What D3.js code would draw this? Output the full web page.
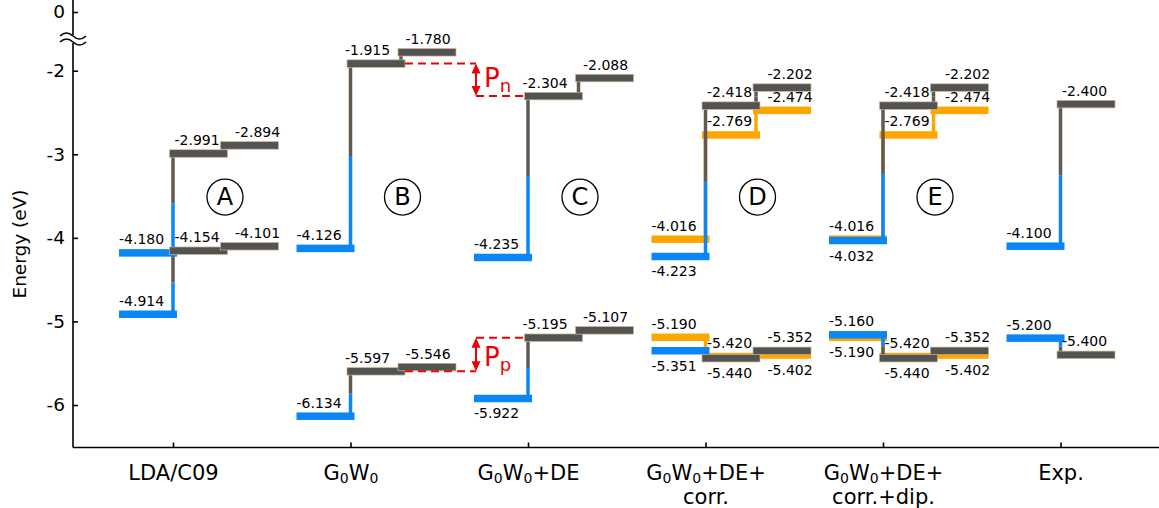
<!DOCTYPE html>
<html>
<head>
<meta charset="utf-8">
<script src="https://cdn.jsdelivr.net/npm/d3@7"></script>
<style>
  body { margin: 0; background: #fff; }
  svg { display: block; font-family: "DejaVu Sans", Verdana, sans-serif; }
</style>
</head>
<body>
<div id="chart"></div>
<script>
// categories on the x axis ("\n" = line break, ₀ = subscript)
const categories = ["LDA/C09", "G₀W₀", "G₀W₀+DE", "G₀W₀+DE+\ncorr.", "G₀W₀+DE+\ncorr.+dip.", "Exp."];
const groupTags = ["A", "B", "C", "D", "E", null];

// left levels (blue)
const blueUpper = [-4.180, -4.126, -4.235, -4.223, -4.032, -4.100];
const blueLower = [-4.914, -6.134, -5.922, -5.351, -5.160, -5.200];
// step levels (gray), first and second step
const grayUpper1 = [-2.991, -1.915, -2.304, -2.418, -2.418, -2.400];
const grayUpper2 = [-2.894, -1.780, -2.088, -2.202, -2.202, null];
const grayLower1 = [-4.154, -5.597, -5.195, -5.440, -5.440, -5.400];
const grayLower2 = [-4.101, -5.546, -5.107, -5.352, -5.352, null];
// second set (orange)
const orangeUpper0 = [null, null, null, -4.016, -4.016, null];
const orangeLower0 = [null, null, null, -5.190, -5.190, null];
const orangeUpper1 = [null, null, null, -2.769, -2.769, null];
const orangeUpper2 = [null, null, null, -2.474, -2.474, null];
const orangeLower1 = [null, null, null, -5.420, -5.420, null];
const orangeLower2 = [null, null, null, -5.402, -5.402, null];

const yTicks = [-6, -5, -4, -3, -2];
const yTopTicks = [0];

// ---- layout ----
const width = 1159, height = 508;
const axisX = 73, axisY = 447.5;
const colors = { blue: "#0a87f5", gray: "#535353", grayLine: "#625a50", orange: "#ffa500", edge: "#c9b48c", red: "#ee0000" };
const slots = { left: [-54, 4], s1: [-3.5, 54.5], s2: [47.5, 105.5] };
const barH = 7.5;

const svg = d3.select("#chart").append("svg")
  .attr("width", width)
  .attr("height", height);

const x = d3.scalePoint().domain(categories).range([173, 1060.5]);
const y = d3.scaleLinear().domain([-6, -2]).range([405, 70.7]);
const yTop = d3.scaleLinear().domain([-1, 0]).range([40, 12]);

// ---- axes ----
svg.append("line").attr("x1", axisX).attr("x2", axisX).attr("y1", 0).attr("y2", 35)
  .attr("stroke", "#000").attr("stroke-width", 1.6);
svg.append("line").attr("x1", axisX).attr("x2", axisX).attr("y1", 43).attr("y2", axisY)
  .attr("stroke", "#000").attr("stroke-width", 1.6);
[36, 42].forEach(yy => {
  svg.append("path")
    .attr("d", `M60,${yy} q6.5,-6 13,0 q6.5,6 13,0`)
    .attr("fill", "none").attr("stroke", "#000").attr("stroke-width", 1.6);
});
svg.append("line").attr("x1", axisX).attr("x2", width).attr("y1", axisY).attr("y2", axisY)
  .attr("stroke", "#000").attr("stroke-width", 1.6);

const yAxis = svg.append("g")
  .attr("transform", `translate(${axisX},0)`)
  .call(d3.axisLeft(y).tickValues(yTicks).tickSize(-5).tickSizeOuter(0).tickPadding(8).tickFormat(d => String(d)));
const yAxisTop = svg.append("g")
  .attr("transform", `translate(${axisX},0)`)
  .call(d3.axisLeft(yTop).tickValues(yTopTicks).tickSize(-5).tickSizeOuter(0).tickPadding(8).tickFormat(d => String(d)));
[yAxis, yAxisTop].forEach(g => {
  g.select(".domain").remove();
  g.selectAll("line").attr("stroke-width", 1.6);
  g.selectAll("text").attr("font-size", 18.5).attr("font-family", "DejaVu Sans");
});

const xAxis = svg.append("g")
  .attr("transform", `translate(0,${axisY})`)
  .call(d3.axisBottom(x).tickSize(-5).tickSizeOuter(0).tickFormat(""));
xAxis.select(".domain").remove();
xAxis.selectAll("line").attr("stroke-width", 1.6);

// multi-line tick labels with subscripts
xAxis.selectAll(".tick").each(function (d) {
  const t = d3.select(this).append("text")
    .attr("fill", "#000")
    .attr("font-size", 21)
    .attr("text-anchor", "middle")
    .attr("font-family", "DejaVu Sans");
  d.split("\n").forEach((line, li) => {
    const row = t.append("tspan").attr("x", 0).attr("y", 32.5 + li * 24);
    let buf = "", shift = 0;
    const flush = () => {
      if (buf) { row.append("tspan").attr("dy", shift).text(buf); buf = ""; shift = 0; }
    };
    for (const ch of line) {
      if (ch === "₀") {
        flush();
        row.append("tspan").attr("font-size", 14).attr("dy", 3).text("0");
        shift = -3;
      } else buf += ch;
    }
    flush();
  });
});

svg.append("text")
  .attr("transform", "translate(19,244) rotate(-90)")
  .attr("text-anchor", "middle")
  .attr("dominant-baseline", "central")
  .attr("font-size", 18.5)
  .text("Energy (eV)");

// ---- level marks ----
const levels = [
  { name: "orangeUpper0", vals: orangeUpper0, slot: "left", kind: "orange" },
  { name: "orangeLower0", vals: orangeLower0, slot: "left", kind: "orange" },
  { name: "orangeUpper1", vals: orangeUpper1, slot: "s1", kind: "orange" },
  { name: "orangeUpper2", vals: orangeUpper2, slot: "s2", kind: "orange" },
  { name: "orangeLower1", vals: orangeLower1, slot: "s1", kind: "orange" },
  { name: "orangeLower2", vals: orangeLower2, slot: "s2", kind: "orange" },
  { name: "blueUpper", vals: blueUpper, slot: "left", kind: "blue" },
  { name: "blueLower", vals: blueLower, slot: "left", kind: "blue" },
  { name: "grayUpper1", vals: grayUpper1, slot: "s1", kind: "gray" },
  { name: "grayUpper2", vals: grayUpper2, slot: "s2", kind: "gray" },
  { name: "grayLower1", vals: grayLower1, slot: "s1", kind: "gray" },
  { name: "grayLower2", vals: grayLower2, slot: "s2", kind: "gray" }
];
const labelBelow = { blueUpper: [3, 4], blueLower: [2, 3], orangeLower0: [4], grayLower1: [3, 4], orangeLower2: [3, 4] };
const labelNudge = [0, -7, -7, 0, 0, 0];

const marks = [];
levels.forEach(l => l.vals.forEach((v, i) => {
  if (v !== null) marks.push({ name: l.name, kind: l.kind, slot: l.slot, i, v, cat: categories[i] });
}));

// vertical connectors: each half takes the colour of the level it touches
const drawLink = (g, a, b, xo, colA, colB) => {
  categories.forEach((c, i) => {
    if (a[i] === null || b[i] === null) return;
    const xx = x(c) + xo, ya = y(a[i]), yb = y(b[i]), ym = (ya + yb) / 2;
    g.append("line").attr("x1", xx).attr("x2", xx).attr("y1", ya).attr("y2", ym)
      .attr("stroke", colA).attr("stroke-width", 3.5);
    g.append("line").attr("x1", xx).attr("x2", xx).attr("y1", ym).attr("y2", yb)
      .attr("stroke", colB).attr("stroke-width", 3.5);
  });
};
const drawBars = (g, kind) => {
  g.selectAll(`.bar-${kind}`)
    .data(marks.filter(m => m.kind === kind))
    .enter()
    .append("rect")
    .attr("class", `bar-${kind}`)
    .attr("x", d => x(d.cat) + slots[d.slot][0])
    .attr("y", d => y(d.v) - barH / 2)
    .attr("width", d => slots[d.slot][1] - slots[d.slot][0])
    .attr("height", barH)
    .attr("fill", colors[kind])
    .attr("stroke", kind === "gray" ? colors.edge : "none")
    .attr("stroke-width", 0.7);
};

// orange set underneath
const orangeLinks = svg.append("g");
drawLink(orangeLinks, orangeUpper1, orangeUpper0, 0, colors.orange, colors.orange);
drawLink(orangeLinks, orangeLower1, orangeLower0, 0, colors.orange, colors.orange);
drawLink(orangeLinks, orangeUpper1, orangeUpper2, 50.5, colors.orange, colors.orange);
drawLink(orangeLinks, orangeLower1, orangeLower2, 50.5, colors.orange, colors.orange);
drawBars(svg.append("g"), "orange");

const mainLinks = svg.append("g");
drawLink(mainLinks, grayUpper1, blueUpper, 0, colors.grayLine, colors.blue);
drawLink(mainLinks, grayLower1, blueLower, 0, colors.grayLine, colors.blue);
drawLink(mainLinks, grayUpper1, grayUpper2, 50.5, colors.grayLine, colors.grayLine);
drawLink(mainLinks, grayLower1, grayLower2, 50.5, colors.grayLine, colors.grayLine);
const mainBars = svg.append("g");
drawBars(mainBars, "blue");
drawBars(mainBars, "gray");

// value labels
const labelX = d => {
  const xc = x(d.cat);
  if (d.slot === "left") return xc - 54;
  if (d.slot === "s1") return xc + 1.5 + labelNudge[d.i];
  return xc + 62 + labelNudge[d.i];
};
svg.append("g").selectAll("text")
  .data(marks)
  .enter()
  .append("text")
  .attr("x", labelX)
  .attr("y", d => (labelBelow[d.name] || []).includes(d.i) ? y(d.v) + 20 : y(d.v) - 8.5)
  .attr("font-size", 14)
  .attr("fill", "#000")
  .text(d => d.v.toFixed(3));

// group tags in circles
categories.forEach((c, i) => {
  if (!groupTags[i]) return;
  const cx = x(c) + 52, cy = y(-3.5) + 1;
  svg.append("circle").attr("cx", cx).attr("cy", cy).attr("r", 18)
    .attr("fill", "none").attr("stroke", "#000").attr("stroke-width", 1.3);
  svg.append("text").attr("x", cx).attr("y", cy)
    .attr("text-anchor", "middle").attr("dominant-baseline", "central")
    .attr("font-size", 24).text(groupTags[i]);
});

// Pn / Pp annotations between G0W0 and G0W0+DE
const arrowX = x(categories[2]) - 52;
const dashFrom = x(categories[1]) + slots.s1[1];
const dashTo = x(categories[2]) + slots.s1[0];
const annot = svg.append("g");
const drawGap = (vB, vC, sub, baseShift) => {
  const yB = y(vB), yC = y(vC);
  annot.append("line").attr("x1", dashFrom).attr("x2", arrowX).attr("y1", yB).attr("y2", yB)
    .attr("stroke", colors.red).attr("stroke-width", 2).attr("stroke-dasharray", "8,5");
  annot.append("line").attr("x1", arrowX).attr("x2", dashTo).attr("y1", yC).attr("y2", yC)
    .attr("stroke", colors.red).attr("stroke-width", 2).attr("stroke-dasharray", "8,5");
  const top = Math.min(yB, yC), bot = Math.max(yB, yC);
  annot.append("line").attr("x1", arrowX).attr("x2", arrowX).attr("y1", top + 6).attr("y2", bot - 6)
    .attr("stroke", colors.red).attr("stroke-width", 2);
  annot.append("path")
    .attr("d", `M${arrowX},${top} l-4.5,10 l9,0 Z M${arrowX},${bot} l-4.5,-10 l9,0 Z`)
    .attr("fill", colors.red);
  const t = annot.append("text")
    .attr("x", arrowX + 8)
    .attr("y", (top + bot) / 2 + baseShift)
    .attr("fill", colors.red)
    .attr("font-size", 26);
  t.append("tspan").text("P");
  t.append("tspan").attr("font-size", 18).attr("dy", 5).text(sub);
};
drawGap(grayUpper1[1], grayUpper1[2], "n", 7);
drawGap(grayLower1[1], grayLower1[2], "p", 11);
</script>
</body>
</html>
